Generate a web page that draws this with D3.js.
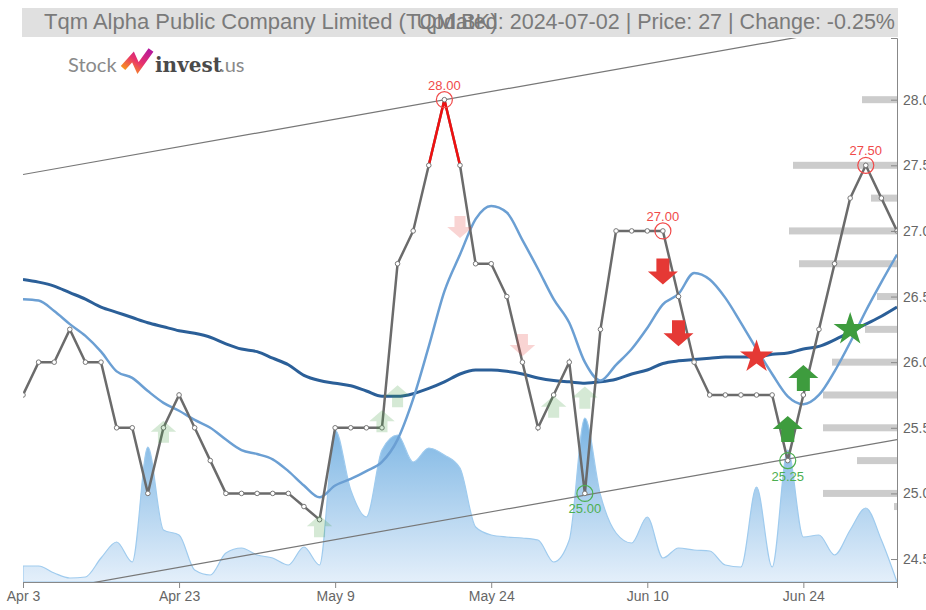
<!DOCTYPE html>
<html>
<head>
<meta charset="utf-8">
<script src="https://cdn.jsdelivr.net/npm/d3@7"></script>
<style>
  body { margin: 0; background: #fff; }
  svg { display: block; font-family: "Liberation Sans", Arial, sans-serif; }
  .axis text { fill: #666; font-size: 14px; }
  .axis path, .axis line { stroke: #888; }
</style>
</head>
<body>
<div id="chart"></div>
<script>
// trading days shown on the chart
const dates = [
  "2024-04-03","2024-04-04","2024-04-05","2024-04-09","2024-04-10","2024-04-11","2024-04-17","2024-04-18","2024-04-19","2024-04-22",
  "2024-04-23","2024-04-24","2024-04-25","2024-04-26","2024-04-29","2024-04-30","2024-05-02","2024-05-03","2024-05-07","2024-05-08",
  "2024-05-09","2024-05-10","2024-05-13","2024-05-14","2024-05-15","2024-05-16","2024-05-17","2024-05-20","2024-05-21","2024-05-23",
  "2024-05-24","2024-05-27","2024-05-28","2024-05-29","2024-05-30","2024-05-31","2024-06-04","2024-06-05","2024-06-06","2024-06-07",
  "2024-06-10","2024-06-11","2024-06-12","2024-06-13","2024-06-14","2024-06-17","2024-06-18","2024-06-19","2024-06-20","2024-06-21",
  "2024-06-24","2024-06-25","2024-06-26","2024-06-27","2024-06-28","2024-07-01","2024-07-02"]

const close = [25.75,26,26,26.25,26,26,25.5,25.5,25,25.5,
  25.75,25.5,25.25,25,25,25,25,25,24.9,24.8,
  25.5,25.5,25.5,25.5,26.75,27,27.5,28,27.5,26.75,
  26.75,26.5,26,25.5,25.75,26,25,26.25,27,27,
  27,27,26.5,26,25.75,25.75,25.75,25.75,25.75,25.25,
  25.75,26.25,26.75,27.25,27.5,27.25,27]

const maShort = [26.48,26.47,26.39,26.29,26.20,26.08,25.93,25.88,25.78,25.69,
  25.63,25.56,25.50,25.41,25.33,25.30,25.26,25.17,25.06,24.97,
  25.06,25.11,25.17,25.24,25.41,25.72,26.12,26.54,26.82,27.09,
  27.19,27.14,26.93,26.71,26.48,26.30,26.00,25.86,25.98,26.10,
  26.26,26.44,26.52,26.68,26.63,26.49,26.30,26.10,25.91,25.74,
  25.68,25.75,25.93,26.15,26.39,26.61,26.82]

const maLong = [26.63,26.61,26.58,26.53,26.48,26.42,26.38,26.34,26.30,26.27,
  26.24,26.22,26.19,26.14,26.10,26.08,26.03,25.98,25.90,25.86,
  25.84,25.82,25.78,25.74,25.74,25.76,25.80,25.85,25.91,25.94,
  25.94,25.93,25.91,25.88,25.86,25.85,25.84,25.85,25.87,25.91,
  25.94,25.99,26.01,26.02,26.03,26.04,26.04,26.04,26.06,26.07,
  26.10,26.12,26.17,26.23,26.29,26.35,26.42]

// volume, thousand shares
const volume = [80,80,45,20,25,120,200,100,675,260,
  235,60,35,145,170,135,120,85,175,85,
  760,460,325,660,735,600,670,635,570,275,
  235,225,220,210,100,210,820,435,245,195,
  325,120,170,160,155,85,75,475,75,660,
  225,235,135,260,370,210,0]

// turning points
const peakIdx = [27, 41, 54]
const troughIdx = [36, 49]
// part of the line drawn red
const hotStart = 26, hotEnd = 28

// signals: index, price level, kind, strong
const sigIdx =    [9, 19, 23, 24, 34, 36, 28, 32, 41, 42, 47, 49, 50, 53]
const sigPrice =  [25.47,24.75,25.55,25.74,25.66,25.73,27.03,26.13,26.69,26.22,26.04,25.49,25.88,26.25]
const sigKind =   ["buy","buy","buy","buy","buy","buy","sell","sell","sell","sell","sellStar","buy","buy","buyStar"]
const sigStrong = [false,false,false,false,false,false,false,false,true,true,true,true,true,true]

// price levels on the right with their weight
const levelPrice =  [28, 27.5, 27.25, 27, 26.75, 26.5, 26.25, 26, 25.75, 25.5, 25.25, 25, 24.9]
const levelWeight = [3.5, 10.4, 2.6, 10.8, 9.8, 2, 3.2, 6.5, 7.4, 7.4, 4, 7.4, 0.3]

// trend channel: [index, price] end points
const upperTrend = [[0, 27.43], [56, 28.61]]
const lowerTrend = [[0, 24.225], [56, 25.41]]

const yTicks = [24.5, 25, 25.5, 26, 26.5, 27, 27.5, 28]
const xTickIdx = [0, 10, 20, 30, 40, 50]

const title = "Tqm Alpha Public Company Limited (TQM.BK)"
const subtitle = "Updated: 2024-07-02 | Price: 27 | Change: -0.25%"

const W = 926, H = 610
const margin = {top: 38, right: 29, bottom: 28, left: 23}
const x0 = margin.left, x1 = W - margin.right, yTop = margin.top, yBot = H - margin.bottom

const svg = d3.select("#chart").append("svg").attr("width", W).attr("height", H)

const x = d3.scaleLinear().domain([0, dates.length - 1]).range([x0, x1])
const y = d3.scaleLinear().domain([24.325, 28.47]).range([yBot, yTop])
const yVol = d3.scaleLinear().domain([0, 1000]).range([yBot, yBot - 200])
const wLevel = d3.scaleLinear().domain([0, 10]).range([0, 100])

const defs = svg.append("defs")
defs.append("clipPath").attr("id", "plot")
  .append("rect").attr("x", x0).attr("y", yTop).attr("width", x1 - x0).attr("height", yBot - yTop)
const grad = defs.append("linearGradient").attr("id", "volGrad")
  .attr("gradientUnits", "userSpaceOnUse").attr("x1", 0).attr("x2", 0).attr("y1", yBot - 170).attr("y2", yBot)
grad.append("stop").attr("offset", 0).attr("stop-color", "#74b1e2")
grad.append("stop").attr("offset", 1).attr("stop-color", "#e4effa")
const logoGrad = defs.append("linearGradient").attr("id", "logoGrad")
  .attr("x1", 0).attr("x2", 1).attr("y1", 1).attr("y2", 0)
logoGrad.append("stop").attr("offset", 0).attr("stop-color", "#f7931e")
logoGrad.append("stop").attr("offset", 0.45).attr("stop-color", "#e8336b")
logoGrad.append("stop").attr("offset", 1).attr("stop-color", "#b3179e")

// title bar
svg.append("rect").attr("x", 22).attr("y", 8).attr("width", 876).attr("height", 29).attr("fill", "#e0e0e0")
svg.append("text").attr("x", 44).attr("y", 29).attr("font-size", 22).attr("fill", "#7a7a7a").text(title)
svg.append("text").attr("x", 895).attr("y", 29).attr("font-size", 21.5).attr("fill", "#7a7a7a")
  .attr("text-anchor", "end").text(subtitle)

// logo
const logo = svg.append("g")
logo.append("text").attr("x", 68).attr("y", 72).attr("font-size", 20).attr("font-family", "Lato, sans-serif")
  .attr("fill", "#8a8a8a").text("Stock")
logo.append("path").attr("d", "M123,68 L133,57 L138,68 L151,50")
  .attr("fill", "none").attr("stroke", "url(#logoGrad)").attr("stroke-width", 6).attr("stroke-linejoin", "miter")
logo.append("text").attr("x", 155).attr("y", 72).attr("font-size", 20).attr("font-weight", "bold")
  .attr("font-family", "'DejaVu Serif', serif").attr("fill", "#4a4a4a").text("invest")
logo.append("text").attr("x", 220).attr("y", 72).attr("font-size", 20).attr("font-family", "Lato, sans-serif")
  .attr("fill", "#8a8a8a").text(".us")

const plot = svg.append("g").attr("clip-path", "url(#plot)")

// volume
const area = d3.area().x((d, i) => x(i)).y0(yBot).y1(d => yVol(d)).curve(d3.curveMonotoneX)
plot.append("path").datum(volume).attr("d", area)
  .attr("fill", "url(#volGrad)").attr("stroke", "#9fcbee").attr("stroke-width", 1.2)

// trend channel
const tline = d3.line().x(d => x(d[0])).y(d => y(d[1]))
;[upperTrend, lowerTrend].forEach(t => {
  plot.append("path").datum(t).attr("d", tline).attr("fill", "none").attr("stroke", "#777").attr("stroke-width", 1.2)
})

// price level bars
plot.selectAll(".lvl").data(levelPrice).join("rect")
  .attr("x", (d, i) => x1 - wLevel(levelWeight[i]))
  .attr("y", d => y(d) - 3.5).attr("width", (d, i) => wLevel(levelWeight[i])).attr("height", 7)
  .attr("fill", "#cccccc")

// moving averages
const line = d3.line().x((d, i) => x(i)).y(d => y(d)).curve(d3.curveMonotoneX)
plot.append("path").datum(maLong).attr("d", line).attr("fill", "none").attr("stroke", "#2b5f98").attr("stroke-width", 3)
plot.append("path").datum(maShort).attr("d", line).attr("fill", "none").attr("stroke", "#6b9fd3").attr("stroke-width", 2.5)

// price line
const pline = d3.line().x((d, i) => x(i)).y(d => y(d))
plot.append("path").datum(close).attr("d", pline).attr("fill", "none").attr("stroke", "#6b6b6b").attr("stroke-width", 2.5)
const hot = close.map((d, i) => [i, d]).slice(hotStart, hotEnd + 1)
plot.append("path").datum(hot).attr("d", d3.line().x(d => x(d[0])).y(d => y(d[1])))
  .attr("fill", "none").attr("stroke", "#f01010").attr("stroke-width", 2.5)
plot.selectAll(".pt").data(close).join("circle")
  .attr("cx", (d, i) => x(i)).attr("cy", d => y(d)).attr("r", 2.3)
  .attr("fill", "#fff").attr("stroke", "#777").attr("stroke-width", 1)

// turning points
peakIdx.forEach(i => {
  plot.append("circle").attr("cx", x(i)).attr("cy", y(close[i])).attr("r", 8)
    .attr("fill", "none").attr("stroke", "#f04a4a").attr("stroke-width", 1.2)
  plot.append("text").attr("x", x(i)).attr("y", y(close[i]) - 10).attr("text-anchor", "middle")
    .attr("font-size", 13).attr("fill", "#f04a4a").text(close[i].toFixed(2))
})
troughIdx.forEach(i => {
  plot.append("circle").attr("cx", x(i)).attr("cy", y(close[i])).attr("r", 8)
    .attr("fill", "none").attr("stroke", "#4caf50").attr("stroke-width", 1.2)
  plot.append("text").attr("x", x(i)).attr("y", y(close[i]) + 20).attr("text-anchor", "middle")
    .attr("font-size", 13).attr("fill", "#4caf50").text(close[i].toFixed(2))
})

// signals
const upArrow = "M0,-13 L15,0 L6.5,0 L6.5,13 L-6.5,13 L-6.5,0 L-15,0 Z"
const downArrow = "M0,13 L15,0 L6.5,0 L6.5,-13 L-6.5,-13 L-6.5,0 L-15,0 Z"
const star = d3.symbol().type(d3.symbolStar).size(340)()
sigIdx.forEach((idx, k) => {
  const kind = sigKind[k]
  const col = kind.startsWith("buy") ? "#3e9c3e" : "#e53935"
  const shape = kind.endsWith("Star") ? star : (kind === "buy" ? upArrow : downArrow)
  const s = sigStrong[k] ? 1 : 0.85
  svg.append("path").attr("d", shape)
    .attr("transform", `translate(${x(idx)},${y(sigPrice[k])}) scale(${s})`)
    .attr("fill", col).attr("opacity", sigStrong[k] ? 1 : 0.22)
})

// axes
const fmt = d3.timeFormat("%b %-d"), parse = d3.timeParse("%Y-%m-%d")
svg.append("g").attr("class", "axis").attr("transform", `translate(0,${yBot})`)
  .call(d3.axisBottom(x).tickValues(xTickIdx).tickFormat(i => fmt(parse(dates[i]))))
svg.append("g").attr("class", "axis").attr("transform", `translate(${x1},0)`)
  .call(d3.axisRight(y).tickValues(yTicks).tickSize(-6).tickPadding(6).tickFormat(d3.format(".1f")))
</script>
</body>
</html>
